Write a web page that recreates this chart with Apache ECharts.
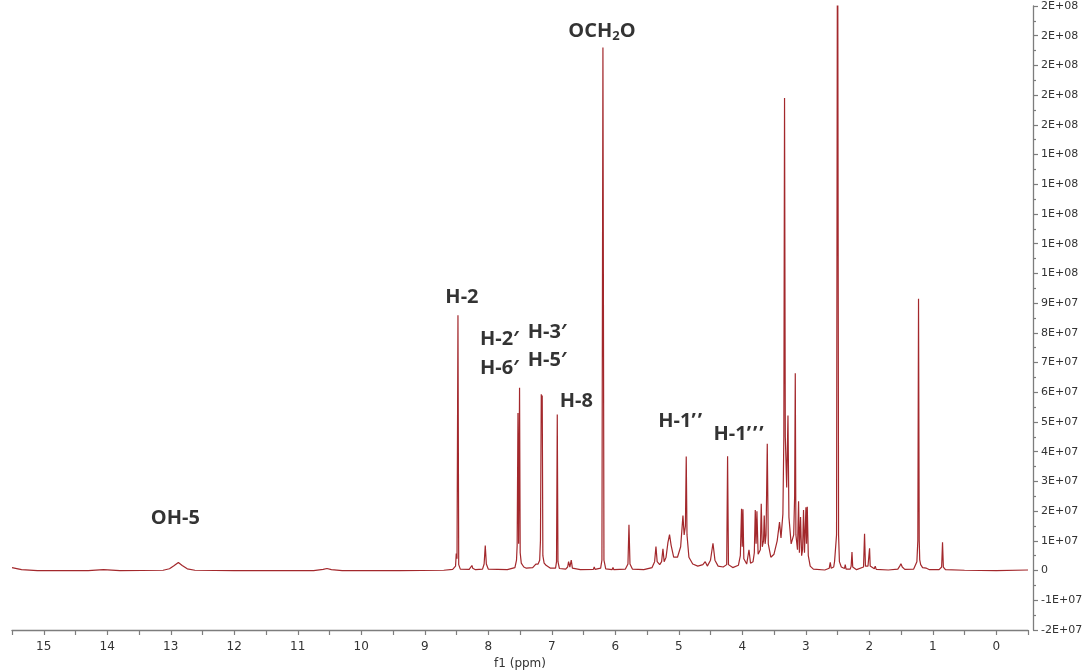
<!DOCTYPE html>
<html>
<head>
<meta charset="utf-8">
<title>1H NMR spectrum</title>
<script src="https://cdn.jsdelivr.net/npm/echarts@6.0.0/dist/echarts.min.js"></script>
<style>
  html, body { margin: 0; padding: 0; background: #ffffff; }
  #chart { width: 1085px; height: 671px; }
</style>
</head>
<body>
<div id="chart"></div>
<script>
// Chemical shift (ppm) of each trace point, high field to the right.
const shift = [
  15.50, 15.35, 15.10, 14.30, 14.06, 13.80, 13.12, 13.02, 12.95, 12.88,
  12.82, 12.74, 12.62, 12.00, 10.75, 10.60, 10.54, 10.47, 10.30, 9.40,
  8.70, 8.56, 8.515, 8.504, 8.492, 8.477, 8.465, 8.44, 8.30, 8.27,
  8.257, 8.245, 8.20, 8.09, 8.065, 8.047, 8.03, 8.00, 7.70, 7.58,
  7.555, 7.545, 7.532, 7.522, 7.507, 7.497, 7.48, 7.44, 7.40, 7.30,
  7.25, 7.233, 7.215, 7.19, 7.178, 7.165, 7.158, 7.150, 7.140, 7.12,
  7.09, 7.06, 7.02, 6.94, 6.925, 6.913, 6.902, 6.88, 6.78, 6.75,
  6.735, 6.715, 6.693, 6.675, 6.55, 6.345, 6.331, 6.318, 6.23, 6.21,
  6.194, 6.178, 6.15, 6.05, 6.036, 6.022, 5.84, 5.80, 5.784, 5.768,
  5.73, 5.55, 5.42, 5.38, 5.359, 5.34, 5.30, 5.27, 5.249, 5.23,
  5.20, 5.17, 5.145, 5.12, 5.08, 5.02, 4.97, 4.934, 4.915, 4.895,
  4.882, 4.87, 4.84, 4.78, 4.70, 4.62, 4.583, 4.55, 4.50, 4.461,
  4.43, 4.38, 4.30, 4.245, 4.231, 4.217, 4.15, 4.06, 4.03, 4.011,
  4.000, 3.989, 3.975, 3.93, 3.894, 3.87, 3.83, 3.81, 3.795, 3.782,
  3.769, 3.75, 3.715, 3.701, 3.685, 3.665, 3.654, 3.64, 3.625, 3.606,
  3.59, 3.55, 3.50, 3.45, 3.413, 3.39, 3.36, 3.345, 3.334, 3.322,
  3.300, 3.280, 3.265, 3.23, 3.19, 3.175, 3.165, 3.155, 3.13, 3.113,
  3.100, 3.082, 3.065, 3.050, 3.035, 3.020, 2.997, 2.988, 2.976, 2.96,
  2.93, 2.88, 2.70, 2.63, 2.614, 2.60, 2.56, 2.546, 2.53, 2.515,
  2.499, 2.483, 2.47, 2.44, 2.39, 2.378, 2.365, 2.30, 2.285, 2.272,
  2.26, 2.20, 2.09, 2.074, 2.06, 2.02, 1.995, 1.985, 1.92, 1.906,
  1.89, 1.70, 1.55, 1.52, 1.501, 1.48, 1.44, 1.30, 1.25, 1.235,
  1.224, 1.213, 1.205, 1.19, 1.16, 1.10, 1.05, 0.90, 0.86, 0.846,
  0.833, 0.80, 0.50, 0.00, -0.50
];

// Signal intensity at each of those shifts.
const intensity = [
  0.10e7, 0.03e7, 0.00e7, 0.00e7, 0.03e7, 0.00e7, 0.01e7, 0.06e7, 0.16e7, 0.27e7,
  0.17e7, 0.06e7, 0.01e7, 0.00e7, 0.00e7, 0.04e7, 0.07e7, 0.03e7, 0.00e7, 0.00e7,
  0.01e7, 0.04e7, 0.15e7, 0.57e7, 0.40e7, 8.59e7, 0.20e7, 0.05e7, 0.04e7, 0.10e7,
  0.17e7, 0.08e7, 0.03e7, 0.05e7, 0.22e7, 0.84e7, 0.22e7, 0.05e7, 0.03e7, 0.10e7,
  0.35e7, 0.84e7, 5.30e7, 0.90e7, 6.15e7, 0.60e7, 0.25e7, 0.12e7, 0.08e7, 0.10e7,
  0.22e7, 0.28e7, 0.22e7, 0.35e7, 1.00e7, 5.93e7, 5.40e7, 5.89e7, 0.50e7, 0.25e7,
  0.18e7, 0.15e7, 0.08e7, 0.08e7, 0.30e7, 5.25e7, 0.30e7, 0.07e7, 0.05e7, 0.12e7,
  0.30e7, 0.12e7, 0.35e7, 0.08e7, 0.03e7, 0.04e7, 0.12e7, 0.04e7, 0.08e7, 0.35e7,
  17.6e7, 0.35e7, 0.06e7, 0.03e7, 0.10e7, 0.03e7, 0.05e7, 0.22e7, 1.54e7, 0.22e7,
  0.05e7, 0.03e7, 0.10e7, 0.30e7, 0.81e7, 0.30e7, 0.20e7, 0.30e7, 0.73e7, 0.30e7,
  0.45e7, 0.95e7, 1.21e7, 0.85e7, 0.45e7, 0.45e7, 0.80e7, 1.85e7, 1.20e7, 1.50e7,
  3.84e7, 1.20e7, 0.45e7, 0.22e7, 0.15e7, 0.20e7, 0.30e7, 0.15e7, 0.35e7, 0.92e7,
  0.35e7, 0.15e7, 0.12e7, 0.20e7, 3.85e7, 0.20e7, 0.10e7, 0.18e7, 0.50e7, 2.08e7,
  0.80e7, 2.06e7, 0.40e7, 0.22e7, 0.70e7, 0.25e7, 0.30e7, 0.60e7, 2.04e7, 0.90e7,
  2.00e7, 0.55e7, 0.70e7, 2.25e7, 0.80e7, 1.00e7, 1.85e7, 0.90e7, 1.20e7, 4.27e7,
  0.90e7, 0.45e7, 0.55e7, 1.00e7, 1.63e7, 1.10e7, 1.90e7, 4.50e7, 15.9e7, 4.50e7,
  2.80e7, 5.22e7, 1.80e7, 0.90e7, 1.20e7, 2.50e7, 6.64e7, 1.20e7, 0.70e7, 2.33e7,
  0.60e7, 1.80e7, 0.50e7, 0.70e7, 2.04e7, 0.60e7, 2.13e7, 0.90e7, 2.15e7, 0.50e7,
  0.15e7, 0.05e7, 0.02e7, 0.08e7, 0.28e7, 0.08e7, 0.12e7, 0.31e7, 0.30e7, 1.20e7,
  25.0e7, 1.20e7, 0.30e7, 0.12e7, 0.07e7, 0.20e7, 0.05e7, 0.05e7, 0.15e7, 0.62e7,
  0.12e7, 0.03e7, 0.12e7, 1.24e7, 0.15e7, 0.15e7, 0.75e7, 0.15e7, 0.06e7, 0.15e7,
  0.04e7, 0.02e7, 0.05e7, 0.15e7, 0.23e7, 0.12e7, 0.04e7, 0.05e7, 0.30e7, 1.00e7,
  9.15e7, 1.00e7, 0.36e7, 0.20e7, 0.10e7, 0.08e7, 0.03e7, 0.03e7, 0.12e7, 0.95e7,
  0.12e7, 0.03e7, 0.01e7, 0.00e7, 0.02e7
];

// Signal assignments and the peak each one names.
const assignText = ['OH-5', 'H-2', 'H-2′\nH-6′', 'H-3′\nH-5′', 'H-8', 'OCH{sub|2}O', 'H-1’\u200A’', 'H-1’\u200A’\u200A’'];
const assignShift = [12.88, 8.477, 7.507, 7.165, 6.913, 6.194, 4.882, 4.231];
const assignIntensity = [0.27e7, 8.59e7, 6.15e7, 5.93e7, 5.25e7, 17.6e7, 3.84e7, 3.85e7];

// Axis ranges and steps.
const shiftRange = [-0.5, 15.5];
const shiftStep = 0.5;
const intensityRange = [-2e7, 1.9e8];
const intensityStep = 1e7;

// Label placement relative to the peak top (pixels).
const assignOffsets = [[-3, -44], [4, -18], [-20, -34], [6, -48], [19, -13], [-1, -16], [-6, -35], [11, -22]];

const trace = shift.map((s, i) => [s, intensity[i]]);

// Spreadsheet-style scientific labels: 1E+07, 2E+08, ...
function sciLabel(v) {
  if (v === 0) return '0';
  const s = v.toExponential(0).toUpperCase();
  return s.replace(/E([+-])(\d)$/, 'E$10$2');
}

const axisGrey = '#7d7d7d';
const tickFont = { fontFamily: 'DejaVu Sans', fontSize: 11, color: '#333333' };
const labelFont = 'Open Sans';

const chart = echarts.init(document.getElementById('chart'), null, { renderer: 'canvas' });

chart.setOption({
  animation: false,
  backgroundColor: '#ffffff',
  grid: { left: 12, right: 57, top: 6, bottom: 41, containLabel: false, outerBoundsMode: 'none' },
  xAxis: {
    type: 'value',
    inverse: true,
    min: shiftRange[0],
    max: shiftRange[1],
    interval: shiftStep,
    name: 'f1 (ppm)',
    nameLocation: 'middle',
    nameGap: 28,
    nameTextStyle: { fontFamily: 'DejaVu Sans', fontSize: 12, color: '#333333' },
    axisLine: { onZero: false, lineStyle: { color: axisGrey, width: 1.3 } },
    axisTick: { show: true, length: 5, lineStyle: { color: axisGrey, width: 1.2 } },
    axisLabel: {
      fontFamily: 'DejaVu Sans', fontSize: 12, color: '#333333', margin: 11,
      formatter: v => (Number.isInteger(v) ? String(v) : '')
    },
    splitLine: { show: false }
  },
  yAxis: {
    type: 'value',
    position: 'right',
    offset: 5,
    min: intensityRange[0],
    max: intensityRange[1],
    interval: intensityStep,
    axisLine: { show: true, onZero: false, lineStyle: { color: axisGrey, width: 1.3 } },
    axisTick: { show: true, length: 5, lineStyle: { color: axisGrey, width: 1.2 } },
    minorTick: { show: true, splitNumber: 2, length: 3, lineStyle: { color: axisGrey, width: 1.2 } },
    axisLabel: Object.assign({ margin: 8, formatter: sciLabel }, tickFont),
    splitLine: { show: false },
    minorSplitLine: { show: false }
  },
  series: [
    {
      type: 'line',
      data: trace,
      showSymbol: false,
      clip: true,
      lineStyle: { color: '#a3282c', width: 1.2 },
      emphasis: { disabled: true },
      z: 2
    },
    {
      type: 'scatter',
      symbol: 'circle',
      symbolSize: 1,
      itemStyle: { color: 'rgba(0,0,0,0)' },
      silent: true,
      z: 3,
      data: assignText.map((t, i) => ({
        value: [assignShift[i], assignIntensity[i]],
        label: {
          show: true,
          position: 'inside',
          offset: assignOffsets[i],
          formatter: t,
          align: 'center',
          verticalAlign: 'middle',
          color: '#000000',
          textBorderWidth: 0,
          fontFamily: labelFont,
          fontWeight: 'bold',
          fontSize: 20,
          lineHeight: 28.5,
          rich: {
            sub: {
              fontFamily: labelFont, fontWeight: 'bold', fontSize: 13, color: '#000000',
              padding: [10, 0, 0, 0]
            }
          }
        }
      }))
    }
  ]
});
</script>
</body>
</html>
